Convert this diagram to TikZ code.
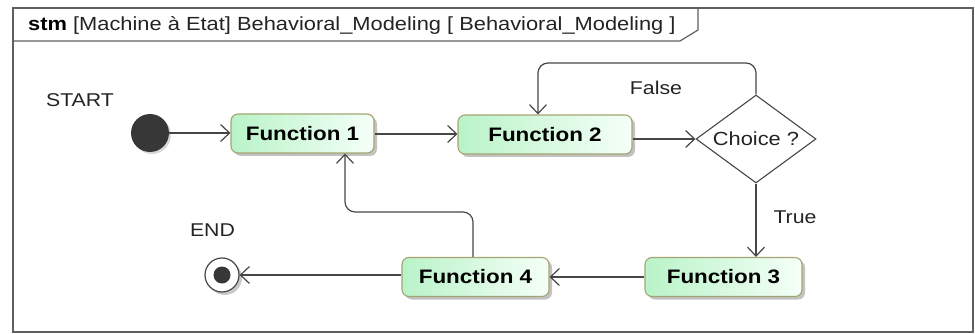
\documentclass[tikz,border=0pt]{standalone}
\usepackage{fontspec}
\setmainfont{Liberation Sans}[FakeStretch=1.15]
\usetikzlibrary{arrows.meta,shapes.geometric,shadows,calc}
\definecolor{lineC}{RGB}{70,70,70}
\definecolor{frameC}{RGB}{95,95,95}
\definecolor{boxL}{RGB}{185,243,200}
\definecolor{boxR}{RGB}{245,255,248}
\definecolor{boxB}{RGB}{165,165,115}
\definecolor{dotC}{RGB}{55,55,55}
\definecolor{txtC}{RGB}{35,35,35}
\tikzset{
  funcbox/.style={rectangle, rounded corners=7pt, draw=boxB, line width=1.1pt,
    left color=boxL, right color=boxR, minimum height=39pt, inner sep=0pt,
    font=\fontsize{19.5}{22}\selectfont\bfseries,
    drop shadow={shadow xshift=3pt, shadow yshift=-3pt, fill=black!40, opacity=.6}},
  choicebox/.style={diamond, draw=lineC, line width=1.1pt, fill=white, inner sep=0pt,
    minimum width=120pt, minimum height=88pt, aspect=1.36,
    font=\fontsize{19}{22}\selectfont, text=txtC},
  lbl/.style={font=\fontsize{18.5}{22}\selectfont, text=txtC, inner sep=0pt},
  conn/.style={draw=lineC, line width=1.2pt, -{Straight Barb[length=9pt,width=17pt,line width=1.2pt]}},
  loopconn/.style={conn, rounded corners=10pt},
}
\begin{document}
\begin{tikzpicture}[x=1pt,y=-1pt]
\useasboundingbox (0,0) rectangle (975,334);
% frame
\draw[frameC, line width=1.5pt] (13,8) rectangle (973,332);
\draw[frameC, line width=1.2pt] (13,41) -- (680,41) -- (698,30) -- (698,8);
\node[anchor=base west, inner sep=0pt, font=\fontsize{19}{22}\selectfont] (hdr) at (28,31)
  {\textbf{stm} \textcolor{txtC}{[Machine à Etat] Behavioral\_Modeling [ Behavioral\_Modeling ]}};
% labels
\node[lbl] (lstart) at (80,100) {START};
\node[lbl] (lend) at (212.5,230) {END};
\node[lbl] (lfalse) at (656,88) {False};
\node[lbl] (ltrue) at (795,217) {True};
% pseudo states
\node[circle, fill=dotC, minimum size=38pt, inner sep=0pt,
  drop shadow={shadow xshift=2pt, shadow yshift=-2pt, fill=black!30, opacity=.5}] (start) at (150,133) {};
\node[circle, draw=lineC, line width=1.2pt, fill=white, minimum size=34pt, inner sep=0pt,
  drop shadow={shadow xshift=3pt, shadow yshift=-3pt, fill=black!35, opacity=.6}] (end) at (222,275) {};
\node[circle, fill=dotC, minimum size=17pt, inner sep=0pt] (enddot) at (end.center) {};
% states
\node[funcbox, minimum width=143pt] (f1) at (302.5,133.5) {Function 1};
\node[funcbox, minimum width=174pt] (f2) at (545,134.5) {Function 2};
\node[choicebox] (d) at (756,139) {Choice ?};
\node[funcbox, minimum width=157pt] (f3) at (723.5,277) {Function 3};
\node[funcbox, minimum width=147pt] (f4) at (475.5,277) {Function 4};
% connectors
\draw[conn] (start) -- (f1.west |- start);
\draw[conn] (f1.east |- 0,134) -- (f2.west |- 0,134);
\draw[conn] (f2.east |- d.west) -- (d.west);
\draw[loopconn] (d.north) -- (d.north |- 0,63) -| ([xshift=-7pt]f2.north);
\draw[conn] (d.south) -- (d.south |- f3.north);
\draw[conn] (f3.west) -- (f4.east);
\draw[loopconn] ([xshift=-2.5pt]f4.north) -- ++(0,-45) -| ([xshift=42.5pt]f1.south);
\draw[conn] (f4.west |- end) -- (end);
\end{tikzpicture}
\end{document}
